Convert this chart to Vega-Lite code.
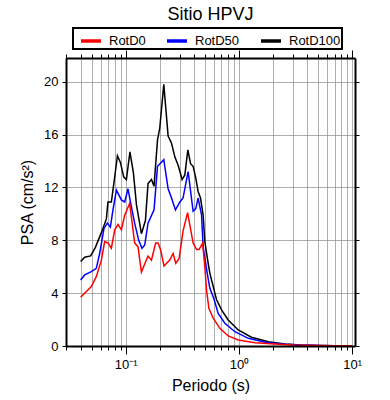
{
  "$schema": "https://vega.github.io/schema/vega-lite/v6.json",
  "autosize": {"type": "none"},
  "padding": {"left": 66, "top": 58, "right": 35, "bottom": 54},
  "width": 289,
  "height": 288,
  "title": {"text": "Sitio HPVJ", "fontSize": 18, "font": "Liberation Sans", "fontWeight": "normal", "color": "black", "anchor": "middle", "offset": 3},
  "config": {
    "view": {"stroke": null},
    "font": "Liberation Sans",
    "legend": {"strokeWidth": 2}
  },
  "data": {"values": [
    {"s":"RotD100","T":0.040,"v":6.39},{"s":"RotD100","T":0.0434,"v":6.72},{"s":"RotD100","T":0.049,"v":6.82},{"s":"RotD100","T":0.054,"v":7.47},{"s":"RotD100","T":0.061,"v":8.58},{"s":"RotD100","T":0.0675,"v":9.62},{"s":"RotD100","T":0.0697,"v":10.9},{"s":"RotD100","T":0.0747,"v":10.9},{"s":"RotD100","T":0.080,"v":12.8},{"s":"RotD100","T":0.0845,"v":14.4},{"s":"RotD100","T":0.0898,"v":13.9},{"s":"RotD100","T":0.096,"v":12.8},{"s":"RotD100","T":0.1014,"v":12.6},{"s":"RotD100","T":0.109,"v":14.7},{"s":"RotD100","T":0.117,"v":13.1},{"s":"RotD100","T":0.1244,"v":10.7},{"s":"RotD100","T":0.1377,"v":8.5},{"s":"RotD100","T":0.1494,"v":9.5},{"s":"RotD100","T":0.1575,"v":12.3},{"s":"RotD100","T":0.1688,"v":12.6},{"s":"RotD100","T":0.178,"v":12.1},{"s":"RotD100","T":0.191,"v":15.6},{"s":"RotD100","T":0.200,"v":16.5},{"s":"RotD100","T":0.217,"v":19.8},{"s":"RotD100","T":0.237,"v":15.9},{"s":"RotD100","T":0.254,"v":15.35},{"s":"RotD100","T":0.272,"v":14.3},{"s":"RotD100","T":0.290,"v":13.7},{"s":"RotD100","T":0.315,"v":12.6},{"s":"RotD100","T":0.333,"v":12.95},{"s":"RotD100","T":0.354,"v":14.85},{"s":"RotD100","T":0.374,"v":13.8},{"s":"RotD100","T":0.394,"v":13.6},{"s":"RotD100","T":0.416,"v":12.7},{"s":"RotD100","T":0.436,"v":11.7},{"s":"RotD100","T":0.458,"v":11.2},{"s":"RotD100","T":0.483,"v":9.9},{"s":"RotD100","T":0.500,"v":7.9},{"s":"RotD100","T":0.535,"v":6.26},{"s":"RotD100","T":0.554,"v":5.5},{"s":"RotD100","T":0.593,"v":4.5},{"s":"RotD100","T":0.613,"v":4.0},{"s":"RotD100","T":0.635,"v":3.5},{"s":"RotD100","T":0.703,"v":2.73},{"s":"RotD100","T":0.804,"v":1.97},{"s":"RotD100","T":0.986,"v":1.21},{"s":"RotD100","T":1.29,"v":0.66},{"s":"RotD100","T":1.82,"v":0.33},{"s":"RotD100","T":2.55,"v":0.15},{"s":"RotD100","T":3.5,"v":0.08},{"s":"RotD100","T":5,"v":0.04},{"s":"RotD100","T":7,"v":0.02},{"s":"RotD100","T":10,"v":0.01},
    {"s":"RotD50","T":0.040,"v":5.0},{"s":"RotD50","T":0.0434,"v":5.38},{"s":"RotD50","T":0.0497,"v":5.63},{"s":"RotD50","T":0.055,"v":5.88},{"s":"RotD50","T":0.0589,"v":7.0},{"s":"RotD50","T":0.0643,"v":8.9},{"s":"RotD50","T":0.0689,"v":9.3},{"s":"RotD50","T":0.0732,"v":9.0},{"s":"RotD50","T":0.0772,"v":10.3},{"s":"RotD50","T":0.0828,"v":11.8},{"s":"RotD50","T":0.0916,"v":11.06},{"s":"RotD50","T":0.098,"v":10.9},{"s":"RotD50","T":0.1048,"v":11.9},{"s":"RotD50","T":0.1122,"v":10.55},{"s":"RotD50","T":0.120,"v":9.3},{"s":"RotD50","T":0.1303,"v":8.0},{"s":"RotD50","T":0.1394,"v":7.4},{"s":"RotD50","T":0.1473,"v":7.65},{"s":"RotD50","T":0.1575,"v":9.3},{"s":"RotD50","T":0.178,"v":10.3},{"s":"RotD50","T":0.191,"v":13.6},{"s":"RotD50","T":0.217,"v":14.1},{"s":"RotD50","T":0.237,"v":11.9},{"s":"RotD50","T":0.254,"v":11.2},{"s":"RotD50","T":0.275,"v":10.3},{"s":"RotD50","T":0.301,"v":10.9},{"s":"RotD50","T":0.321,"v":11.2},{"s":"RotD50","T":0.356,"v":13.2},{"s":"RotD50","T":0.394,"v":10.2},{"s":"RotD50","T":0.416,"v":10.4},{"s":"RotD50","T":0.436,"v":11.2},{"s":"RotD50","T":0.468,"v":9.9},{"s":"RotD50","T":0.483,"v":7.5},{"s":"RotD50","T":0.525,"v":5.5},{"s":"RotD50","T":0.554,"v":4.37},{"s":"RotD50","T":0.600,"v":3.6},{"s":"RotD50","T":0.656,"v":2.47},{"s":"RotD50","T":0.751,"v":1.72},{"s":"RotD50","T":0.923,"v":1.08},{"s":"RotD50","T":1.21,"v":0.58},{"s":"RotD50","T":1.70,"v":0.28},{"s":"RotD50","T":2.55,"v":0.13},{"s":"RotD50","T":3.5,"v":0.07},{"s":"RotD50","T":5,"v":0.035},{"s":"RotD50","T":7,"v":0.018},{"s":"RotD50","T":10,"v":0.01},
    {"s":"RotD0","T":0.040,"v":3.69},{"s":"RotD0","T":0.0497,"v":4.5},{"s":"RotD0","T":0.055,"v":5.25},{"s":"RotD0","T":0.061,"v":6.5},{"s":"RotD0","T":0.0652,"v":7.9},{"s":"RotD0","T":0.0697,"v":7.8},{"s":"RotD0","T":0.0747,"v":7.4},{"s":"RotD0","T":0.080,"v":8.8},{"s":"RotD0","T":0.0855,"v":9.2},{"s":"RotD0","T":0.0916,"v":8.8},{"s":"RotD0","T":0.098,"v":9.9},{"s":"RotD0","T":0.1084,"v":10.8},{"s":"RotD0","T":0.120,"v":7.8},{"s":"RotD0","T":0.1285,"v":7.5},{"s":"RotD0","T":0.1377,"v":5.6},{"s":"RotD0","T":0.1503,"v":6.4},{"s":"RotD0","T":0.1575,"v":6.8},{"s":"RotD0","T":0.1688,"v":6.5},{"s":"RotD0","T":0.184,"v":7.8},{"s":"RotD0","T":0.193,"v":7.8},{"s":"RotD0","T":0.203,"v":7.3},{"s":"RotD0","T":0.218,"v":6.06},{"s":"RotD0","T":0.245,"v":6.5},{"s":"RotD0","T":0.262,"v":7.0},{"s":"RotD0","T":0.277,"v":6.26},{"s":"RotD0","T":0.296,"v":6.6},{"s":"RotD0","T":0.321,"v":8.7},{"s":"RotD0","T":0.352,"v":10.1},{"s":"RotD0","T":0.394,"v":7.8},{"s":"RotD0","T":0.423,"v":7.3},{"s":"RotD0","T":0.445,"v":7.3},{"s":"RotD0","T":0.478,"v":7.8},{"s":"RotD0","T":0.500,"v":6.0},{"s":"RotD0","T":0.518,"v":4.2},{"s":"RotD0","T":0.543,"v":2.85},{"s":"RotD0","T":0.593,"v":2.1},{"s":"RotD0","T":0.679,"v":1.34},{"s":"RotD0","T":0.804,"v":0.76},{"s":"RotD0","T":0.986,"v":0.45},{"s":"RotD0","T":1.39,"v":0.25},{"s":"RotD0","T":2.08,"v":0.15},{"s":"RotD0","T":3,"v":0.08},{"s":"RotD0","T":5,"v":0.04},{"s":"RotD0","T":7,"v":0.02},{"s":"RotD0","T":10,"v":0.01}
  ]},
  "resolve": {"axis": {"x": "independent", "y": "independent"}},
  "layer": [
    {
      "mark": {"type": "line", "strokeWidth": 1.5, "clip": true},
      "encoding": {
        "x": {"field": "T", "type": "quantitative",
          "scale": {"type": "log", "domain": [0.0297, 10.6], "nice": false},
          "axis": {"orient": "bottom", "title": "Periodo (s)", "titleFontSize": 16, "titleFontWeight": "normal", "titleColor": "black", "titlePadding": 6,
            "values": [0.03,0.04,0.05,0.06,0.07,0.08,0.09,0.1,0.2,0.3,0.4,0.5,0.6,0.7,0.8,0.9,1,2,3,4,5,6,7,8,9,10],
            "labelExpr": "datum.value == 0.1 ? '10⁻¹' : datum.value == 1 ? '10⁰' : datum.value == 10 ? '10¹' : ''",
            "labelOverlap": false, "labelFlush": false, "labelBound": false, "labelFontSize": 13, "labelColor": "black", "labelPadding": 4,
            "tickColor": "black", "tickWidth": 1,
            "tickSize": {"condition": {"test": "datum.value == 0.1 || datum.value == 1 || datum.value == 10", "value": 8}, "value": 4},
            "domain": false, "grid": true, "gridColor": "#8c8c8c", "gridWidth": 0.7, "gridOpacity": 1, "zindex": 0}
        },
        "y": {"field": "v", "type": "quantitative",
          "scale": {"domain": [0, 21.8], "nice": false},
          "axis": {"orient": "left", "title": "PSA (cm/s²)", "titleFontSize": 16, "titleFontWeight": "normal", "titleColor": "black", "titlePadding": 8,
            "values": [0,4,8,12,16,20], "labelFontSize": 13, "labelColor": "black", "labelPadding": 4, "labelFlush": false,
            "tickColor": "black", "tickSize": 4, "domain": false, "grid": true, "gridColor": "#8c8c8c", "gridWidth": 0.7, "gridOpacity": 1, "zindex": 0}
        },
        "color": {"field": "s", "type": "nominal",
          "scale": {"domain": ["RotD0", "RotD50", "RotD100"], "range": ["#ff0000", "#0000ff", "#000000"]},
          "legend": {"title": null, "orient": "none", "legendX": 7, "legendY": -30, "direction": "horizontal",
            "symbolType": "stroke", "symbolStrokeWidth": 3.5, "symbolSize": 400, "symbolOffset": 5, "labelFontSize": 13, "labelColor": "black", "labelOffset": 6,
            "columnPadding": 14, "padding": 1, "strokeColor": "black"}
        }
      }
    },
    {
      "mark": {"type": "line", "opacity": 0},
      "encoding": {
        "x": {"field": "T", "type": "quantitative",
          "scale": {"type": "log", "domain": [0.0297, 10.6], "nice": false},
          "axis": {"orient": "top", "title": null, "labels": false, "grid": false,
            "values": [0.03,0.04,0.05,0.06,0.07,0.08,0.09,0.1,0.2,0.3,0.4,0.5,0.6,0.7,0.8,0.9,1,2,3,4,5,6,7,8,9,10],
            "tickColor": "black",
            "tickSize": {"condition": {"test": "datum.value == 0.1 || datum.value == 1 || datum.value == 10", "value": 8}, "value": 4},
            "domain": true, "domainColor": "black", "domainWidth": 2, "zindex": 1}
        },
        "y": {"field": "v", "type": "quantitative",
          "scale": {"domain": [0, 21.8], "nice": false},
          "axis": {"orient": "right", "title": null, "labels": false, "grid": false, "values": [0,4,8,12,16,20],
            "tickColor": "black", "tickSize": 4, "domain": true, "domainColor": "black", "domainWidth": 2, "zindex": 1}
        }
      }
    },
    {
      "mark": {"type": "line", "opacity": 0},
      "encoding": {
        "x": {"field": "T", "type": "quantitative",
          "scale": {"type": "log", "domain": [0.0297, 10.6], "nice": false},
          "axis": {"orient": "bottom", "title": null, "labels": false, "ticks": false, "grid": false,
            "domain": true, "domainColor": "black", "domainWidth": 2, "zindex": 1}
        },
        "y": {"field": "v", "type": "quantitative",
          "scale": {"domain": [0, 21.8], "nice": false},
          "axis": {"orient": "left", "title": null, "labels": false, "ticks": false, "grid": false,
            "domain": true, "domainColor": "black", "domainWidth": 2, "zindex": 1}
        }
      }
    }
  ]
}
